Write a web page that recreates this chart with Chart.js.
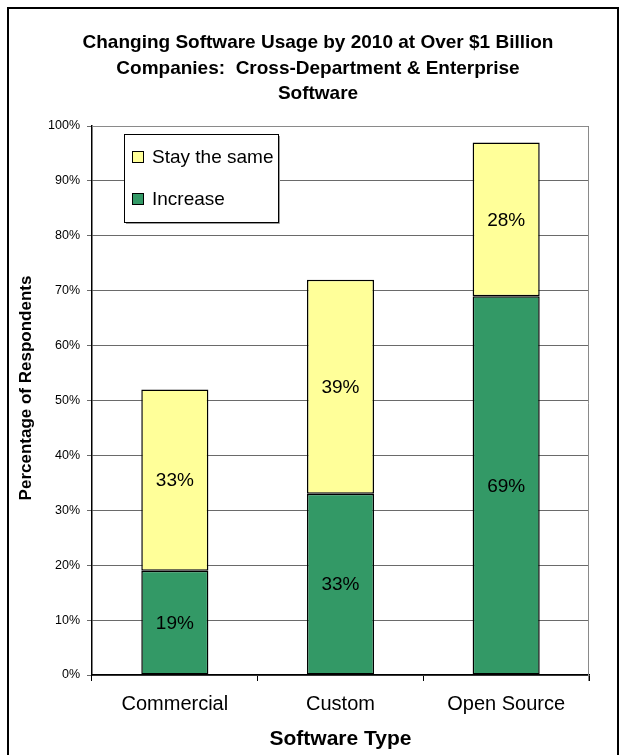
<!DOCTYPE html>
<html>
<head>
<meta charset="utf-8">
<script src="https://cdn.jsdelivr.net/npm/chart.js@4"></script>
<style>
  body { margin: 0; background: #fff; }
  #wrap { position: relative; width: 622px; height: 755px; overflow: hidden; }
  #frame { position: absolute; left: 7px; top: 7px; width: 608px; height: 800px; border: 2px solid #000; }
  #chartCanvas { position: absolute; left: 0; top: 0; }
</style>
</head>
<body>
<div id="wrap">
  <div id="frame"></div>
  <canvas id="chartCanvas" width="622" height="755"></canvas>
</div>
<script>
// ---------------- data ----------------
const categories = ['Commercial', 'Custom', 'Open Source'];
const increase = [19, 33, 69];
const staySame = [33, 39, 28];
const titleLines = [
  'Changing Software Usage by 2010 at Over $1 Billion',
  'Companies:  Cross-Department & Enterprise',
  'Software'
];
const yTitle = 'Percentage of Respondents';
const xTitle = 'Software Type';

const GREEN = '#339966';
const YELLOW = '#FFFF99';
const FONT = 'Arial, "Liberation Sans", sans-serif';

// ---------------- chart title + y axis title ----------------
const titles = {
  id: 'titles',
  afterDraw(chart) {
    const { ctx } = chart;
    ctx.save();
    ctx.fillStyle = '#000';
    ctx.textAlign = 'center';
    ctx.textBaseline = 'middle';
    ctx.font = 'bold 19px ' + FONT;
    titleLines.forEach((t, i) => ctx.fillText(t, 318, 43 + i * 25.5));

    ctx.translate(26, 388);
    ctx.rotate(-Math.PI / 2);
    ctx.font = 'bold 17px ' + FONT;
    ctx.fillText(yTitle, 0, 0);
    ctx.restore();
  }
};

// ---------------- plot frame (gray top/right edge) ----------------
const plotFrame = {
  id: 'plotFrame',
  beforeDatasetsDraw(chart) {
    const { ctx, chartArea: a } = chart;
    ctx.save();
    ctx.strokeStyle = '#8a8a8a';
    ctx.lineWidth = 1;
    ctx.beginPath();
    ctx.moveTo(a.left, a.top + 0.5);
    ctx.lineTo(a.right - 0.5, a.top + 0.5);
    ctx.lineTo(a.right - 0.5, a.bottom + 6);
    ctx.stroke();
    ctx.restore();
  }
};

// ---------------- value labels inside segments ----------------
const segLabels = {
  id: 'segLabels',
  afterDatasetsDraw(chart) {
    const { ctx } = chart;
    ctx.save();
    ctx.fillStyle = '#000';
    ctx.font = '19px ' + FONT;
    ctx.textAlign = 'center';
    ctx.textBaseline = 'middle';
    chart.data.datasets.forEach((ds, di) => {
      chart.getDatasetMeta(di).data.forEach((bar, i) => {
        const { x, y, base } = bar.getProps(['x', 'y', 'base'], true);
        ctx.fillText(ds.data[i] + '%', x, (y + base) / 2 + 1);
      });
    });
    ctx.restore();
  }
};

// ---------------- boxed legend ----------------
const boxLegend = {
  id: 'boxLegend',
  afterDraw(chart) {
    const { ctx } = chart;
    const x = 124, y = 134, w = 154, h = 88;
    ctx.save();
    ctx.fillStyle = '#fff';
    ctx.fillRect(x, y, w, h);
    ctx.strokeStyle = '#000';
    ctx.lineWidth = 1;
    ctx.strokeRect(x + 0.5, y + 0.5, w, h);
    ctx.strokeStyle = '#9a9a9a';
    ctx.beginPath();
    ctx.moveTo(x + 2, y + h + 1.5);
    ctx.lineTo(x + w + 1.5, y + h + 1.5);
    ctx.lineTo(x + w + 1.5, y + 2);
    ctx.stroke();

    const items = [chart.data.datasets[1], chart.data.datasets[0]];
    ctx.font = '19px ' + FONT;
    ctx.textBaseline = 'middle';
    items.forEach((ds, i) => {
      const cy = y + 23 + i * 42;
      ctx.fillStyle = ds.backgroundColor;
      ctx.fillRect(x + 8.5, cy - 5.5, 11, 11);
      ctx.strokeStyle = '#000';
      ctx.strokeRect(x + 8.5, cy - 5.5, 11, 11);
      ctx.fillStyle = '#000';
      ctx.fillText(ds.label, x + 28, cy + 1);
    });
    ctx.restore();
  }
};

const ctx = document.getElementById('chartCanvas').getContext('2d');
const chart = new Chart(ctx, {
  type: 'bar',
  data: {
    labels: categories,
    datasets: [
      { label: 'Increase', data: increase, backgroundColor: GREEN, borderColor: '#000', borderWidth: 1.5, borderSkipped: false },
      { label: 'Stay the same', data: staySame, backgroundColor: YELLOW, borderColor: '#000', borderWidth: 1.5, borderSkipped: false }
    ]
  },
  options: {
    responsive: false,
    animation: false,
    layout: { padding: { left: 0, right: 33, top: 126, bottom: 0 } },
    datasets: { bar: { categoryPercentage: 1, barPercentage: 0.405 } },
    plugins: {
      legend: { display: false },
      tooltip: { enabled: false },
      title: { display: false }
    },
    scales: {
      x: {
        stacked: true,
        afterFit(scale) { scale.height = 80; },
        grid: { offset: true, drawOnChartArea: false, drawTicks: true, tickLength: 6, color: '#000' },
        border: { color: '#000', width: 1.5 },
        ticks: { color: '#000', padding: 11, font: { family: FONT, size: 20 } },
        title: {
          display: true,
          text: xTitle,
          color: '#000',
          font: { family: FONT, size: 21, weight: 'bold' },
          padding: { top: 0, bottom: 3 }
        }
      },
      y: {
        stacked: true,
        min: 0,
        max: 100,
        afterFit(scale) { scale.width = 92; },
        grid: { color: '#6a6a6a', lineWidth: 1, tickLength: 5, drawTicks: true },
        border: { color: '#000', width: 1.5 },
        ticks: {
          stepSize: 10,
          color: '#000',
          padding: 7,
          font: { family: FONT, size: 12.5 },
          callback: v => v + '%'
        },
        title: { display: false }
      }
    }
  },
  plugins: [plotFrame, segLabels, boxLegend, titles]
});
</script>
</body>
</html>
